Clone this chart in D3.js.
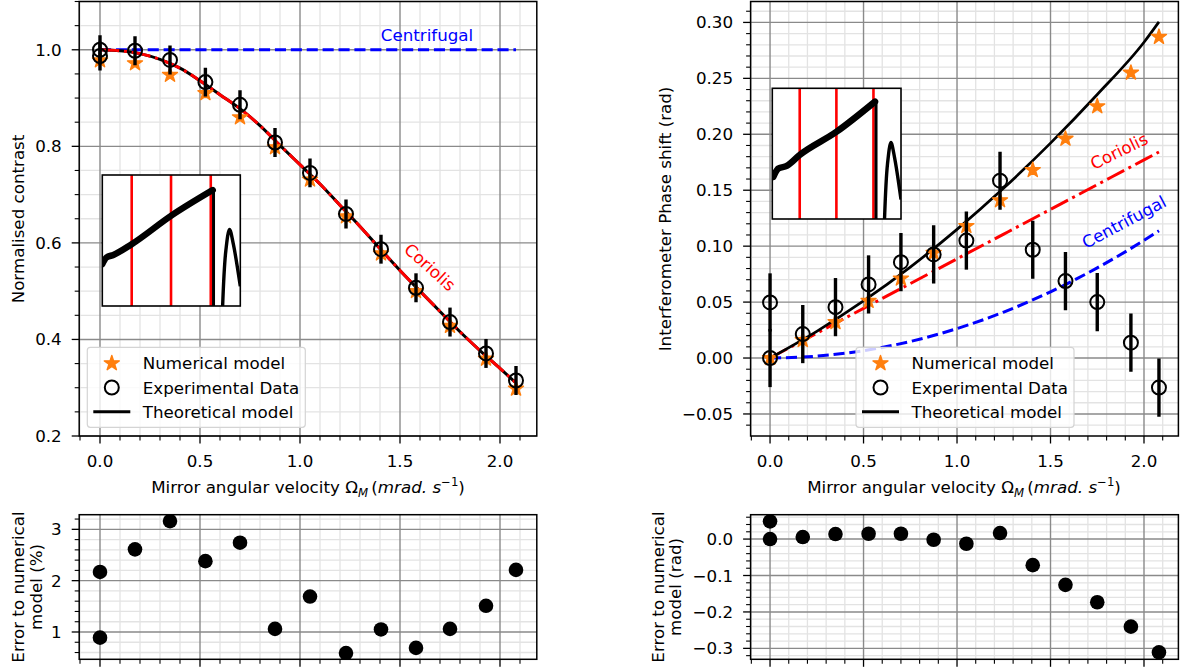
<!DOCTYPE html>
<html>
<head>
<meta charset="utf-8">
<script src="https://cdn.jsdelivr.net/npm/d3@7"></script>
<style>
  body { margin: 0; background: #fff; }
  svg { display: block; font-family: "DejaVu Sans", sans-serif; }
</style>
</head>
<body>
<svg id="fig" width="1182" height="672"></svg>
<script>
// ---------- data ----------
// mirror angular velocity (mrad/s) of each acquisition
const omega = [0, 0.175, 0.35, 0.527, 0.70, 0.875, 1.05, 1.23, 1.405, 1.58, 1.75, 1.93, 2.08];
// experimental points (two acquisitions at rest)
const omegaExp = [0, 0, 0.175, 0.35, 0.527, 0.70, 0.875, 1.05, 1.23, 1.405, 1.58, 1.75, 1.93, 2.08];

// normalised contrast
const contrastNumerical = [0.978, 0.972, 0.948, 0.910, 0.860, 0.798, 0.731, 0.655, 0.578, 0.500, 0.428, 0.360, 0.298];
const contrastExperimental = [1.000, 0.987, 0.998, 0.979, 0.933, 0.886, 0.808, 0.745, 0.660, 0.587, 0.507, 0.436, 0.371, 0.315];
const contrastError = [0.03, 0.03, 0.03, 0.03, 0.03, 0.03, 0.03, 0.03, 0.03, 0.03, 0.03, 0.03, 0.03, 0.03];
const contrastTheoryOmega = [0, 0.1, 0.2, 0.3, 0.4, 0.5, 0.6, 0.7, 0.8, 0.9, 1.0, 1.1, 1.2, 1.3, 1.4, 1.5, 1.6, 1.7, 1.8, 1.9, 2.0, 2.08];
const contrastTheory = [1.000, 0.998, 0.992, 0.980, 0.962, 0.936, 0.907, 0.878, 0.843, 0.802, 0.762, 0.722, 0.678, 0.634, 0.588, 0.543, 0.500, 0.458, 0.416, 0.377, 0.340, 0.310];
const contrastCentrifugalOmega = [0, 2.08];
const contrastCentrifugal = [1.0, 1.0];

// interferometer phase shift (rad)
const phaseNumerical = [0.000, 0.016, 0.032, 0.051, 0.071, 0.094, 0.118, 0.141, 0.168, 0.196, 0.225, 0.255, 0.287];
const phaseExperimental = [0.000, 0.0497, 0.0214, 0.0455, 0.0658, 0.0857, 0.0926, 0.105, 0.1585, 0.0968, 0.0688, 0.050, 0.0137, -0.0264];
const phaseError = [0.026, 0.026, 0.026, 0.026, 0.026, 0.026, 0.026, 0.026, 0.026, 0.026, 0.026, 0.026, 0.026, 0.026];
const phaseTheoryOmega = [0, 0.25, 0.5, 0.75, 1.0, 1.25, 1.5, 1.75, 2.0, 2.08];
const phaseTheory = [0, 0.0239, 0.0510, 0.0813, 0.1150, 0.1519, 0.1921, 0.2356, 0.2823, 0.3005];
const phaseCoriolis = [0, 0.0222, 0.0444, 0.0665, 0.0887, 0.1108, 0.1329, 0.1550, 0.1771, 0.1842];
const phaseCentrifugal = [0, 0.0017, 0.0066, 0.0148, 0.0263, 0.0411, 0.0592, 0.0806, 0.1052, 0.1138];

// residuals between experiment and numerical model
const contrastResidual = [2.17, 0.89, 2.61, 3.16, 2.38, 2.74, 1.06, 1.69, 0.59, 1.05, 0.69, 1.06, 1.51, 2.21];
const phaseResidual = [0.0, 0.0486, 0.0055, 0.0138, 0.0147, 0.0147, -0.0018, -0.0128, 0.0165, -0.0716, -0.1257, -0.1734, -0.2404, -0.311];

// detector trace shown in the insets (normalised time / signal)
const traceLeftT = [0, 0.03, 0.08, 0.21, 0.5, 0.80];
const traceLeft = [0.32, 0.37, 0.39, 0.47, 0.69, 0.885];
const traceRightT = [0.008, 0.047, 0.112, 0.21, 0.497, 0.798];
const traceRight = [0.322, 0.386, 0.406, 0.488, 0.666, 0.898];
const peakT = [0.872, 0.895, 0.922, 0.95, 1.0];
const peakV = [0.0, 0.42, 0.585, 0.47, 0.15];
const flybackT = 0.806;
const windowMarks = [0.213, 0.498, 0.786];

const legendLabels = ["Numerical model", "Experimental Data", "Theoretical model"];

// ---------- drawing helpers ----------
const svg = d3.select("#fig");
const defs = svg.append("defs");
const ORANGE = "#ff7f0e";
const FS = 16.7;
const xLim = [-0.104, 2.184];
const xMajor = [0, 0.5, 1.0, 1.5, 2.0];
const xMinor = d3.range(-1, 22).map(i => +(i * 0.1).toFixed(2)).filter(v => !xMajor.some(m => Math.abs(m - v) < 1e-9));
let clipId = 0;

function steps(lo, hi, step) {
  const out = [];
  const n0 = Math.ceil(lo / step - 1e-9), n1 = Math.floor(hi / step + 1e-9);
  for (let i = n0; i <= n1; i++) out.push(+(i * step).toFixed(6));
  return out;
}

function makeAxes(o) {
  const x = d3.scaleLinear().domain(xLim).range([o.l, o.r]);
  const y = d3.scaleLinear().domain(o.yLim).range([o.b, o.t]);
  const yMajor = steps(o.yLim[0], o.yLim[1], o.yStep);
  const yMinor = steps(o.yLim[0], o.yLim[1], o.yStep / o.yDiv).filter(v => !yMajor.some(m => Math.abs(m - v) < 1e-9));
  const g = svg.append("g");
  const id = "clip" + (clipId++);
  defs.append("clipPath").attr("id", id).append("rect")
    .attr("x", o.l).attr("y", o.t).attr("width", o.r - o.l).attr("height", o.b - o.t);

  const grid = g.append("g");
  grid.selectAll(".vmin").data(xMinor).join("line")
    .attr("x1", d => x(d)).attr("x2", d => x(d)).attr("y1", o.t).attr("y2", o.b)
    .attr("stroke", "#e3e3e3").attr("stroke-width", 1.3);
  grid.selectAll(".hmin").data(yMinor).join("line")
    .attr("x1", o.l).attr("x2", o.r).attr("y1", d => y(d)).attr("y2", d => y(d))
    .attr("stroke", "#e3e3e3").attr("stroke-width", 1.3);
  grid.selectAll(".vmaj").data(xMajor).join("line")
    .attr("x1", d => x(d)).attr("x2", d => x(d)).attr("y1", o.t).attr("y2", o.b)
    .attr("stroke", "#8a8a8a").attr("stroke-width", 1.4);
  grid.selectAll(".hmaj").data(yMajor).join("line")
    .attr("x1", o.l).attr("x2", o.r).attr("y1", d => y(d)).attr("y2", d => y(d))
    .attr("stroke", "#8a8a8a").attr("stroke-width", 1.4);

  const plot = g.append("g").attr("clip-path", `url(#${id})`);

  // axes frame and ticks drawn last so they sit above the data
  const finish = () => {
    const ax = svg.append("g");
    ax.append("rect").attr("x", o.l).attr("y", o.t).attr("width", o.r - o.l).attr("height", o.b - o.t)
      .attr("fill", "none").attr("stroke", "#000").attr("stroke-width", 1.5);
    ax.selectAll(".xt").data(xMajor).join("line")
      .attr("x1", d => x(d)).attr("x2", d => x(d)).attr("y1", o.b).attr("y2", o.b + 7.5)
      .attr("stroke", "#000").attr("stroke-width", 1.3);
    ax.selectAll(".xm").data(xMinor).join("line")
      .attr("x1", d => x(d)).attr("x2", d => x(d)).attr("y1", o.b).attr("y2", o.b + 4.5)
      .attr("stroke", "#000").attr("stroke-width", 1.1);
    ax.selectAll(".yt").data(yMajor).join("line")
      .attr("x1", o.l - 7.5).attr("x2", o.l).attr("y1", d => y(d)).attr("y2", d => y(d))
      .attr("stroke", "#000").attr("stroke-width", 1.3);
    ax.selectAll(".ym").data(yMinor).join("line")
      .attr("x1", o.l - 4.5).attr("x2", o.l).attr("y1", d => y(d)).attr("y2", d => y(d))
      .attr("stroke", "#000").attr("stroke-width", 1.1);
    ax.selectAll(".yl").data(yMajor).join("text")
      .attr("x", o.l - 17.5).attr("y", d => y(d)).attr("dy", "0.36em")
      .attr("text-anchor", "end").attr("font-size", FS).attr("fill", "#000")
      .text(d => o.fmt(d));
    if (o.xLabels) {
      ax.selectAll(".xl").data(xMajor).join("text")
        .attr("x", d => x(d)).attr("y", o.b + 30.5)
        .attr("text-anchor", "middle").attr("font-size", FS).attr("fill", "#000")
        .text(d => d3.format(".1f")(d));
    }
  };
  return { x, y, plot, finish, o };
}

const lineGen = (ax, xs) => d3.line().x((d, i) => ax.x(xs[i])).y(d => ax.y(d));
const minus = s => s.replace("-", "\u2212");

function drawCurve(ax, xs, ys, color, width, dash, curve) {
  ax.plot.append("path").datum(ys)
    .attr("d", lineGen(ax, xs).curve(curve || d3.curveMonotoneX))
    .attr("fill", "none").attr("stroke", color).attr("stroke-width", width)
    .attr("stroke-dasharray", dash || null);
}

const starPath = d3.symbol().type(d3.symbolStar).size(70)();

function drawStars(ax, xs, ys) {
  ax.plot.selectAll(null).data(ys).join("path")
    .attr("d", starPath)
    .attr("transform", (d, i) => `translate(${ax.x(xs[i])},${ax.y(d)})`)
    .attr("fill", ORANGE).attr("stroke", ORANGE).attr("stroke-width", 1.4).attr("stroke-linejoin", "round");
}

function drawExperiment(ax, xs, ys, err) {
  ax.plot.selectAll(null).data(ys).join("line")
    .attr("x1", (d, i) => ax.x(xs[i])).attr("x2", (d, i) => ax.x(xs[i]))
    .attr("y1", (d, i) => ax.y(d - err[i])).attr("y2", (d, i) => ax.y(d + err[i]))
    .attr("stroke", "#000").attr("stroke-width", 3.4);
  ax.plot.selectAll(null).data(ys).join("circle")
    .attr("cx", (d, i) => ax.x(xs[i])).attr("cy", d => ax.y(d)).attr("r", 7)
    .attr("fill", "none").attr("stroke", "#000").attr("stroke-width", 2);
}

function drawInset(x0, y0, w, h, ts, vs) {
  const ix = d3.scaleLinear().domain([0, 1]).range([x0, x0 + w]);
  const iy = d3.scaleLinear().domain([0, 1]).range([y0 + h, y0]);
  const g = svg.append("g");
  const id = "clip" + (clipId++);
  defs.append("clipPath").attr("id", id).append("rect")
    .attr("x", x0).attr("y", y0).attr("width", w).attr("height", h);
  g.append("rect").attr("x", x0).attr("y", y0).attr("width", w).attr("height", h).attr("fill", "#fff");
  const c = g.append("g").attr("clip-path", `url(#${id})`);
  c.selectAll(null).data(windowMarks).join("line")
    .attr("x1", d => ix(d)).attr("x2", d => ix(d)).attr("y1", y0).attr("y2", y0 + h)
    .attr("stroke", "#ff0000").attr("stroke-width", 2.6);
  c.append("path").datum(vs)
    .attr("d", d3.line().x((d, i) => ix(ts[i])).y(d => iy(d)).curve(d3.curveMonotoneX))
    .attr("fill", "none").attr("stroke", "#000").attr("stroke-width", 6.5).attr("stroke-linecap", "round");
  c.append("line")
    .attr("x1", ix(flybackT)).attr("x2", ix(flybackT))
    .attr("y1", iy(vs[vs.length - 1])).attr("y2", iy(0))
    .attr("stroke", "#000").attr("stroke-width", 3);
  c.append("path").datum(peakV)
    .attr("d", d3.line().x((d, i) => ix(peakT[i])).y(d => iy(d)).curve(d3.curveCatmullRom))
    .attr("fill", "none").attr("stroke", "#000").attr("stroke-width", 3.4);
  g.append("rect").attr("x", x0).attr("y", y0).attr("width", w).attr("height", h)
    .attr("fill", "none").attr("stroke", "#000").attr("stroke-width", 1.6);
}

function drawLegend(x0, y0) {
  const g = svg.append("g");
  g.append("rect").attr("x", x0).attr("y", y0).attr("width", 218).attr("height", 80).attr("rx", 3)
    .attr("fill", "#fff").attr("fill-opacity", 0.8).attr("stroke", "#d4d4d4").attr("stroke-width", 1.2);
  const rows = legendLabels.map((t, i) => ({ t, y: y0 + 16 + i * 24.2 }));
  g.append("path").attr("d", starPath).attr("transform", `translate(${x0 + 24.5},${rows[0].y})`)
    .attr("fill", ORANGE).attr("stroke", ORANGE).attr("stroke-width", 1.4).attr("stroke-linejoin", "round");
  g.append("circle").attr("cx", x0 + 24.5).attr("cy", rows[1].y).attr("r", 7)
    .attr("fill", "none").attr("stroke", "#000").attr("stroke-width", 2);
  g.append("line").attr("x1", x0 + 6).attr("x2", x0 + 43).attr("y1", rows[2].y).attr("y2", rows[2].y)
    .attr("stroke", "#000").attr("stroke-width", 3);
  g.selectAll(null).data(rows).join("text")
    .attr("x", x0 + 55.5).attr("y", d => d.y).attr("dy", "0.36em")
    .attr("font-size", FS).attr("fill", "#000").text(d => d.t);
}

function xAxisLabel(cx, y) {
  const t = svg.append("text").attr("x", cx).attr("y", y).attr("text-anchor", "middle")
    .attr("font-size", FS).attr("fill", "#000");
  t.append("tspan").text("Mirror angular velocity \u03A9");
  t.append("tspan").attr("font-style", "italic").attr("font-size", 11.7).attr("dy", 3.5).text("M");
  t.append("tspan").attr("dy", -3.5).text("\u2009(");
  t.append("tspan").attr("font-style", "italic").text("mrad. s");
  t.append("tspan").attr("font-size", 11.7).attr("dy", -7).text("\u22121");
  t.append("tspan").attr("dy", 7).text(")");
}

function yAxisLabel(lines, x, cy, gap) {
  const t = svg.append("text").attr("transform", `translate(${x},${cy}) rotate(-90)`)
    .attr("text-anchor", "middle").attr("font-size", FS).attr("fill", "#000");
  lines.forEach((s, i) => t.append("tspan").attr("x", 0).attr("y", (i - (lines.length - 1)) * (gap || 18)).text(s));
}

function rotatedNote(text, x, y, angle, color) {
  svg.append("text").attr("transform", `translate(${x},${y}) rotate(${angle})`)
    .attr("text-anchor", "middle").attr("dy", "0.36em")
    .attr("font-size", FS).attr("fill", color).text(text);
}

// ---------- contrast panel ----------
const axC = makeAxes({ l: 79.2, r: 536.8, t: 1.5, b: 436, yLim: [0.2, 1.1], yStep: 0.2, yDiv: 4,
  fmt: d3.format(".1f"), xLabels: true });
drawCurve(axC, contrastCentrifugalOmega, contrastCentrifugal, "#0000ff", 3, "11.1,4.8", d3.curveLinear);
drawCurve(axC, contrastTheoryOmega, contrastTheory, "#000", 3);
drawCurve(axC, contrastTheoryOmega, contrastTheory, "#ff0000", 3, "19.2,4.8,3,4.8");
drawStars(axC, omega, contrastNumerical);
drawExperiment(axC, omegaExp, contrastExperimental, contrastError);
drawInset(102.3, 175, 138, 131, traceLeftT, traceLeft);
svg.append("text").attr("x", 427).attr("y", 35).attr("dy", "0.36em").attr("text-anchor", "middle")
  .attr("font-size", FS).attr("fill", "#0000ff").text("Centrifugal");
rotatedNote("Coriolis", 430, 267, 42, "#ff0000");
drawLegend(87.3, 347.3);
axC.finish();
xAxisLabel(308, 493);
yAxisLabel(["Normalised contrast"], 24, 219);

// ---------- phase panel ----------
const axP = makeAxes({ l: 750.6, r: 1178.4, t: 1.5, b: 436, yLim: [-0.0697, 0.3187], yStep: 0.05, yDiv: 5,
  fmt: d => minus(d3.format(".2f")(d)), xLabels: true });
drawCurve(axP, phaseTheoryOmega, phaseCentrifugal, "#0000ff", 3, "11.1,4.8");
drawCurve(axP, phaseTheoryOmega, phaseCoriolis, "#ff0000", 3, "19.2,4.8,3,4.8");
drawCurve(axP, phaseTheoryOmega, phaseTheory, "#000", 2.7);
drawStars(axP, omega, phaseNumerical);
drawExperiment(axP, omegaExp, phaseExperimental, phaseError);
drawInset(772.3, 88.3, 128.7, 130.7, traceRightT, traceRight);
rotatedNote("Coriolis", 1119, 151, -26, "#ff0000");
rotatedNote("Centrifugal", 1124, 222, -28, "#0000ff");
drawLegend(856, 347.3);
axP.finish();
xAxisLabel(964, 493);
yAxisLabel(["Interferometer Phase shift (rad)"], 670.5, 219);

// ---------- residual panels ----------
const axRC = makeAxes({ l: 79.2, r: 536.8, t: 514.7, b: 659.3, yLim: [0.468, 3.285], yStep: 1, yDiv: 5,
  fmt: d3.format("d"), xLabels: false });
axRC.plot.selectAll(null).data(contrastResidual).join("circle")
  .attr("cx", (d, i) => axRC.x(omegaExp[i])).attr("cy", d => axRC.y(d)).attr("r", 7.3).attr("fill", "#000");
axRC.finish();
yAxisLabel(["Error to numerical", "model (%)"], 41.5, 587, 17.5);

const axRP = makeAxes({ l: 750.6, r: 1178.4, t: 514.7, b: 659.3, yLim: [-0.330, 0.0669], yStep: 0.1, yDiv: 5,
  fmt: d => minus(d3.format(".1f")(d)), xLabels: false });
axRP.plot.selectAll(null).data(phaseResidual).join("circle")
  .attr("cx", (d, i) => axRP.x(omegaExp[i])).attr("cy", d => axRP.y(d)).attr("r", 7.3).attr("fill", "#000");
axRP.finish();
yAxisLabel(["Error to numerical", "model (rad)"], 681, 587, 17.5);
</script>
</body>
</html>
